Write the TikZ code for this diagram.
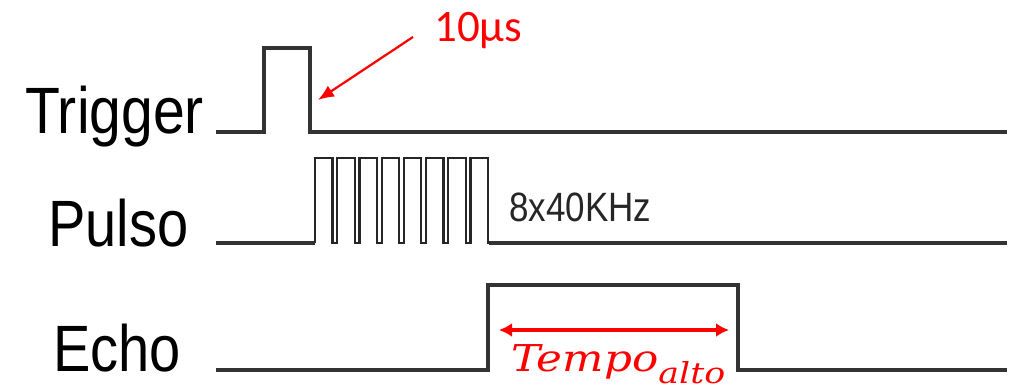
\RequirePackage{fix-cm}
\documentclass[tikz,border=0pt]{standalone}
\usepackage{fontspec}
\setmainfont{Liberation Sans}
\newfontfamily\calib{Carlito}
\newfontfamily\cambria{DejaVu Serif}
\usetikzlibrary{arrows.meta}
\begin{document}
\begin{tikzpicture}[x=1pt,y=-1pt,
  wave/.style={line width=3.2pt, black!80, line join=miter},
  pulse/.style={line width=2.2pt, black!85, line join=miter},
  sig/.style={anchor=base west, inner sep=0pt, font=\fontsize{56}{60}\selectfont},
  redarrow/.style={red, line width=2.2pt, -{Latex[length=16pt,width=13pt]}},
  dblarrow/.style={red, line width=3.8pt, {Latex[length=13pt,width=14pt]}-{Latex[length=13pt,width=14pt]}}]
\useasboundingbox (0,0) rectangle (1009,390);
% labels
\node[sig] (trig) at (25,134) {\scalebox{1.02}[1.17]{Trigger}};
\node[sig] (puls) at (48,246) {\scalebox{1}[1.17]{Pulso}};
\node[sig] (echo) at (53,371) {\scalebox{1}[1.17]{Echo}};
% trigger
\draw[wave] (216,132) -- (264,132) -- (264,48) -- (310,48) -- (310,132) -- (1007,132);
% pulses
\draw[wave] (216,243) -- (315,243);
\draw[wave] (489,243) -- (1007,243);
\draw[pulse] (315,243) foreach \i in {0,...,7}{ -- ({315+22.2*\i},243) -- ({315+22.2*\i},158) -- ({332.5+22.2*\i},158) -- ({332.5+22.2*\i},243)} -- (490,243);
\node[anchor=base west, inner sep=0pt, font=\fontsize{35}{40}\selectfont, black!85] (freq) at (509,222) {\scalebox{1}[1.17]{8x40KHz}};
% echo
\draw[wave] (216,370) -- (488,370) -- (488,285) -- (738,285) -- (738,370) -- (1007,370);
% 10us annotation
\node[anchor=base west, inner sep=0pt, red, font=\calib\fontsize{45}{50}\selectfont] (ten) at (434,42) {10µs};
\coordinate (a1) at (413,37);
\coordinate (a2) at (318,100);
\draw[redarrow] (a1) -- (a2);
% tempo alto
\coordinate (ta) at (499,330);
\coordinate (tb) at (729,330);
\draw[dblarrow] (ta) -- (tb);
\node[anchor=base west, inner sep=0pt, red] (tempo) at (511,371)
  {\scalebox{1.18}[1]{\cambria\itshape\fontsize{37}{37}\selectfont Tempo}\raisebox{-12pt}{\scalebox{1.2}[1]{\cambria\itshape\fontsize{29}{29}\selectfont alto}}};
\end{tikzpicture}
\end{document}
